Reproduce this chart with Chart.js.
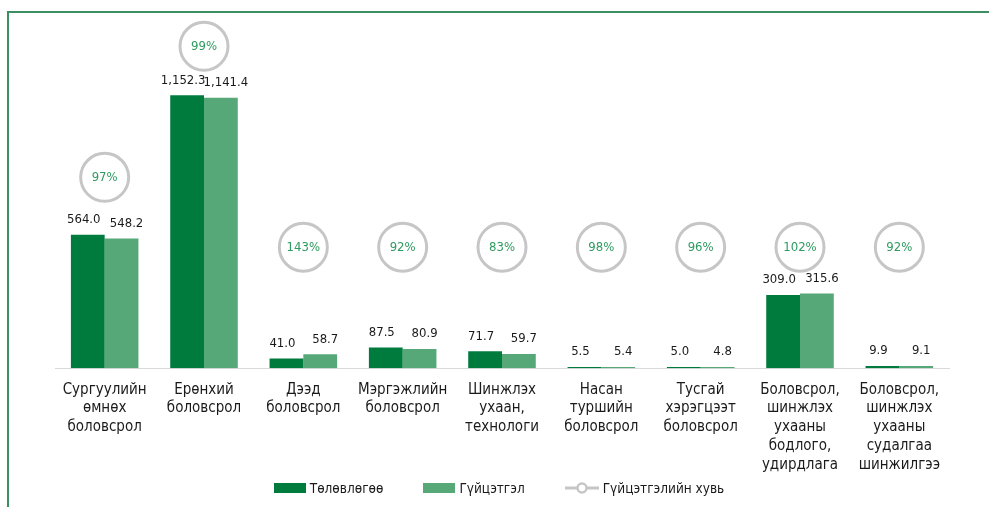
<!DOCTYPE html>
<html>
<head>
<meta charset="utf-8">
<script src="https://cdn.jsdelivr.net/npm/chart.js@4.4.1/dist/chart.umd.min.js"></script>
<style>
  html, body { margin: 0; padding: 0; background: #fff; }
  body { width: 989px; height: 507px; position: relative; overflow: hidden;
         font-family: "Liberation Sans Narrow", "DejaVu Sans Condensed", "Roboto", sans-serif; }
  .frame { position: absolute; left: 7px; top: 11px; right: 0; bottom: 0;
           border-top: 2px solid #3b8f63; border-left: 2px solid #3b8f63; }
  .wrap { position: absolute; left: 9px; top: 13px; width: 980px; height: 473px; }
  .legend { position: absolute; left: 9px; width: 980px; top: 479px; height: 18px;
            display: flex; justify-content: center; align-items: center;
            font-size: 13.5px; color: #1a1a1a; padding-left: 0px; box-sizing: border-box; }
  .legend .item { display: flex; align-items: center; margin: 0 20px; }
  .legend .box { width: 32px; height: 10px; margin-right: 4px; }
  .legend svg { margin-right: 4px; }
</style>
</head>
<body>
<div class="frame"></div>
<div class="wrap"><canvas id="chart"></canvas></div>
<div class="legend" id="legend"></div>
<script>
// categories (multi-line labels)
const categories = [
  ['Сургуулийн', 'өмнөх', 'боловсрол'],
  ['Ерөнхий', 'боловсрол'],
  ['Дээд', 'боловсрол'],
  ['Мэргэжлийн', 'боловсрол'],
  ['Шинжлэх', 'ухаан,', 'технологи'],
  ['Насан', 'туршийн', 'боловсрол'],
  ['Тусгай', 'хэрэгцээт', 'боловсрол'],
  ['Боловсрол,', 'шинжлэх', 'ухааны', 'бодлого,', 'удирдлага'],
  ['Боловсрол,', 'шинжлэх', 'ухааны', 'судалгаа', 'шинжилгээ']
];

const planned  = [564.0, 1152.3, 41.0, 87.5, 71.7, 5.5, 5.0, 309.0, 9.9];
const actual   = [548.2, 1141.4, 58.7, 80.9, 59.7, 5.4, 4.8, 315.6, 9.1];
const percent  = [97, 99, 143, 92, 83, 98, 96, 102, 92];
// height (in value units) where each percent bubble sits
const bubbleLevel = [806, 1359, 511, 511, 511, 511, 511, 511, 511];

const FONT = '"Liberation Sans Narrow", "DejaVu Sans Condensed", "Roboto", sans-serif';
const DARK = '#007b3e', LIGHT = '#57a878', RING = '#c6c6c6', PCT = '#2e9b5f';

function fmt(v){
  return v.toLocaleString('en-US', {minimumFractionDigits: 1, maximumFractionDigits: 1});
}

const labelPlugin = {
  id: 'labels',
  afterDatasetsDraw(chart){
    const ctx = chart.ctx;
    ctx.save();
    ctx.textAlign = 'center';
    ctx.textBaseline = 'middle';
    ctx.font = '13px ' + FONT;
    ctx.fillStyle = '#1a1a1a';
    const shift = [-4, 5];
    [0, 1].forEach(di => {
      const meta = chart.getDatasetMeta(di);
      meta.data.forEach((bar, i) => {
        ctx.fillText(fmt(chart.data.datasets[di].data[i]), bar.x + shift[di], bar.y - 15);
      });
    });
    const meta = chart.getDatasetMeta(2);
    ctx.fillStyle = PCT;
    meta.data.forEach((pt, i) => {
      ctx.fillText(percent[i] + '%', pt.x, pt.y);
    });
    ctx.restore();
  }
};

const chart = new Chart(document.getElementById('chart'), {
  type: 'bar',
  data: {
    labels: categories,
    datasets: [
      { label: 'Төлөвлөгөө', data: planned, backgroundColor: DARK, order: 2,
        categoryPercentage: 0.68, barPercentage: 1.0 },
      { label: 'Гүйцэтгэл', data: actual, backgroundColor: LIGHT, order: 2,
        categoryPercentage: 0.68, barPercentage: 1.0 },
      { label: 'Гүйцэтгэлийн хувь', type: 'line', data: bubbleLevel, order: 1,
        showLine: false, pointRadius: 24, pointHoverRadius: 24, pointBorderWidth: 3,
        pointBorderColor: RING, pointBackgroundColor: '#fff', borderColor: RING }
    ]
  },
  options: {
    responsive: true,
    maintainAspectRatio: false,
    animation: false,
    layout: { autoPadding: false, padding: { left: 46, right: 40, top: 7, bottom: 0 } },
    scales: {
      x: {
        grid: { display: false, drawTicks: false },
        border: { display: true, color: '#d9d9d9', width: 1 },
        ticks: { color: '#1a1a1a', font: { family: FONT, size: 15, lineHeight: 1.25 },
                 maxRotation: 0, autoSkip: false, padding: 12 }
      },
      y: { display: false, min: 0, max: 1470 }
    },
    plugins: {
      tooltip: { enabled: false },
      legend: { display: false }
    }
  },
  plugins: [labelPlugin]
});

// html legend built from the datasets
const legendEl = document.getElementById('legend');
chart.data.datasets.forEach((ds, i) => {
  const item = document.createElement('div'); item.className = 'item';
  if (ds.type === 'line') {
    item.innerHTML = '<svg width="34" height="12"><line x1="0" y1="6" x2="34" y2="6" stroke="' + RING +
      '" stroke-width="3"/><circle cx="17" cy="6" r="4.5" fill="#fff" stroke="' + RING + '" stroke-width="2.5"/></svg>';
  } else {
    const b = document.createElement('span'); b.className = 'box'; b.style.background = ds.backgroundColor;
    item.appendChild(b);
  }
  const t = document.createElement('span'); t.textContent = ds.label;
  item.appendChild(t);
  legendEl.appendChild(item);
});
</script>
</body>
</html>
